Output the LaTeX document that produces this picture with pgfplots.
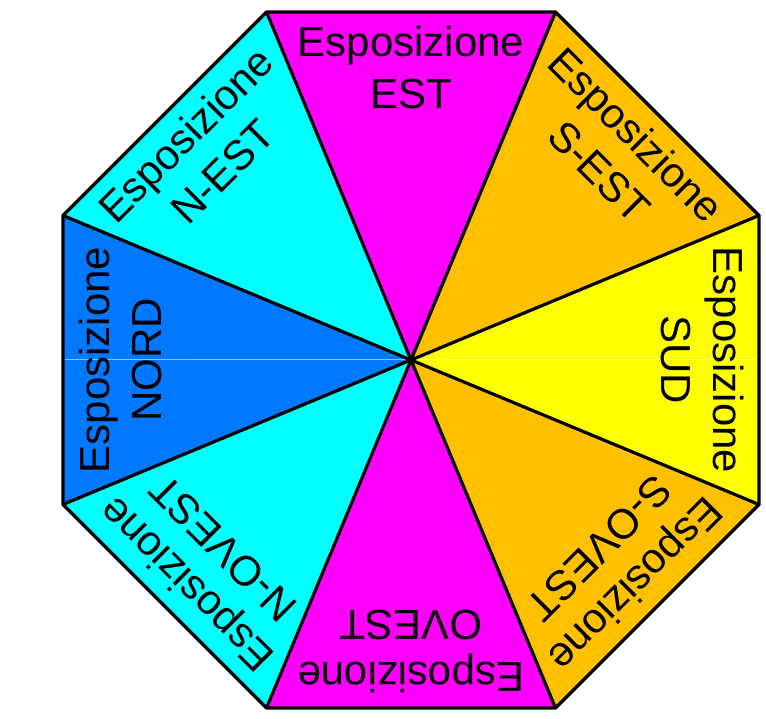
\documentclass[border=0pt]{standalone}
\usepackage{pgfplots}
\pgfplotsset{compat=1.18}
\usepackage{fontspec}
\setmainfont{Liberation Sans}
\definecolor{cyanc}{RGB}{0,255,255}
\definecolor{magc}{RGB}{255,0,255}
\definecolor{orangec}{RGB}{255,192,0}
\definecolor{yellowc}{RGB}{255,255,0}
\definecolor{bluec}{RGB}{0,120,255}
\begin{document}
\begin{tikzpicture}
\begin{axis}[
  scale only axis, width=766pt, height=718pt,
  xmin=0, xmax=766, ymin=0, ymax=718,
  hide axis, clip=false,
]
\path (rel axis cs:0,0) rectangle (rel axis cs:1,1);
% fills (center 411,358)
\addplot[fill=magc, draw=none] coordinates {(411,358) (266.5,706) (555.5,706)} -- cycle;
\addplot[fill=orangec, draw=none] coordinates {(411,358) (555.5,706) (759,502.5)} -- cycle;
\addplot[fill=yellowc, draw=none] coordinates {(411,358) (759,502.5) (759,213.5)} -- cycle;
\addplot[fill=orangec, draw=none] coordinates {(411,358) (759,213.5) (555.5,10)} -- cycle;
\addplot[fill=magc, draw=none] coordinates {(411,358) (555.5,10) (266.5,10)} -- cycle;
\addplot[fill=cyanc, draw=none] coordinates {(411,358) (266.5,10) (63,213.5)} -- cycle;
\addplot[fill=bluec, draw=none] coordinates {(411,358) (63,213.5) (63,502.5)} -- cycle;
\addplot[fill=cyanc, draw=none] coordinates {(411,358) (63,502.5) (266.5,706)} -- cycle;
% faint horizontal line
\addplot[white, opacity=0.55, line width=1pt] coordinates {(64,358) (758,358)};
% outlines
\addplot[draw=black, line width=3.2pt, line join=round] coordinates {(266.5,706) (555.5,706) (759,502.5) (759,213.5) (555.5,10) (266.5,10) (63,213.5) (63,502.5)} -- cycle;
\addplot[draw=black, line width=3.2pt, line cap=round] coordinates {(266.5,706) (411,358) (555.5,10)};
\addplot[draw=black, line width=3.2pt, line cap=round] coordinates {(555.5,706) (411,358) (266.5,10)};
\addplot[draw=black, line width=3.2pt, line cap=round] coordinates {(759,502.5) (411,358) (63,213.5)};
\addplot[draw=black, line width=3.2pt, line cap=round] coordinates {(759,213.5) (411,358) (63,502.5)};
% labels
\tikzset{lab/.style={align=center, inner sep=0pt, font=\fontsize{42}{52}\selectfont}}
\node[lab, rotate=0] at (axis cs:411,651) {Esposizione\\EST};
\node[lab, rotate=45] at (axis cs:204,565) {Esposizione\\N-EST};
\node[lab, rotate=90] at (axis cs:120,358) {Esposizione\\NORD};
\node[lab, rotate=135] at (axis cs:204,151) {Esposizione\\N-OVEST};
\node[lab, rotate=180] at (axis cs:411,66) {Esposizione\\OVEST};
\node[lab, rotate=-135] at (axis cs:618,151) {Esposizione\\S-OVEST};
\node[lab, rotate=-90] at (axis cs:703,358) {Esposizione\\SUD};
\node[lab, rotate=-45] at (axis cs:618,565) {Esposizione\\S-EST};
\end{axis}
\end{tikzpicture}
\end{document}
